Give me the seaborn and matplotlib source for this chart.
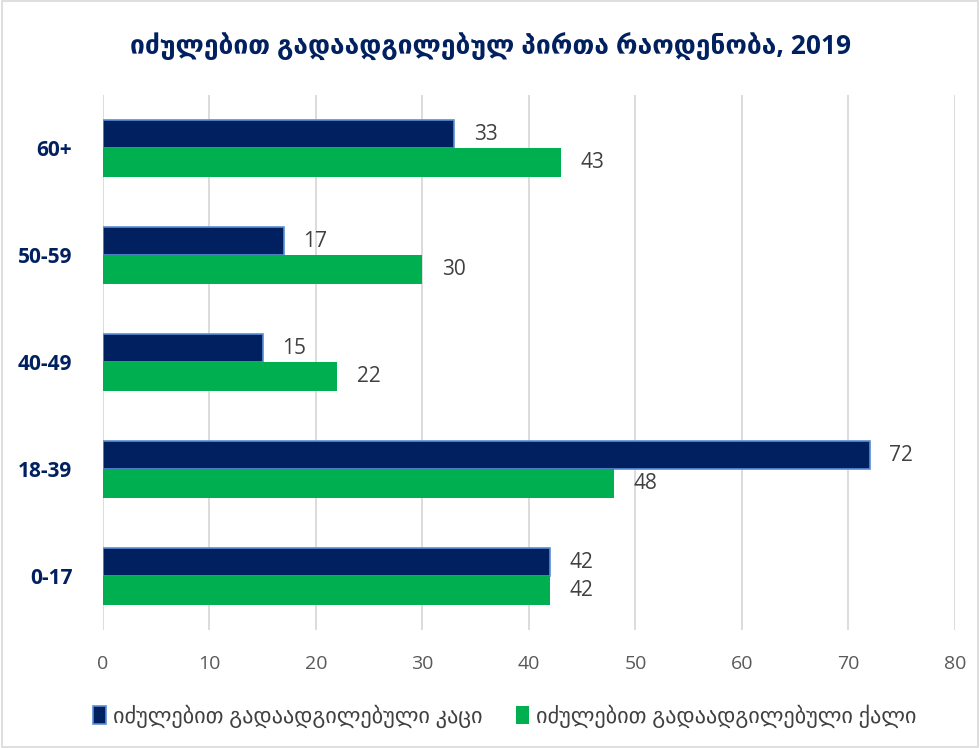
import numpy as np
import pandas as pd
import matplotlib
matplotlib.use("Agg")
import matplotlib.pyplot as plt
import seaborn as sns
from matplotlib.patches import Rectangle

ages = ["60+", "50-59", "40-49", "18-39", "0-17"]
men = [33, 17, 15, 72, 42]
women = [43, 30, 22, 48, 42]
series = ["იძულებით გადაადგილებული კაცი", "იძულებით გადაადგილებული ქალი"]
title = "იძულებით გადაადგილებულ პირთა რაოდენობა, 2019"
xticks = [0, 10, 20, 30, 40, 50, 60, 70, 80]

NAVY = "#002060"
GREEN = "#00B050"
EDGE = "#5B8ED6"

df = pd.DataFrame({
    "age": ages * 2,
    "value": men + women,
    "sex": [series[0]] * len(ages) + [series[1]] * len(ages),
})

sns.set_style("white")
plt.rcParams["font.family"] = ["Open Sans", "DejaVu Sans"]

fig = plt.figure(figsize=(9.8, 7.48), dpi=100)
ax = fig.add_axes([0.105, 0.158, 0.8695, 0.715])

sns.barplot(data=df, y="age", x="value", hue="sex", order=ages, hue_order=series,
            palette=[NAVY, GREEN], width=0.53, orient="h", ax=ax, legend=False,
            saturation=1)

# edge on the navy bars only
n = len(ages)
for i, bar in enumerate(ax.patches):
    if i < n:
        bar.set_edgecolor(EDGE)
        bar.set_linewidth(1.2)
    else:
        bar.set_linewidth(0)

for c in ax.containers:
    ax.bar_label(c, labels=[f"{v:.0f}" for v in c.datavalues], padding=14,
                 fontsize=15, color="#404040")

ax.set_xlim(0, 80)
ax.set_ylim(4.5, -0.5)
ax.set_xticks(xticks)
ax.xaxis.grid(True, color="#D9D9D9", linewidth=1.3)
ax.set_axisbelow(True)
for s in ax.spines.values():
    s.set_visible(False)
ax.set_xlabel("")
ax.set_ylabel("")
ax.tick_params(axis="x", length=0, labelsize=14, labelcolor="#595959", pad=18)
ax.tick_params(axis="y", length=0, pad=22)
for lab in ax.get_yticklabels():
    lab.set_fontsize(15)
    lab.set_fontweight("bold")
    lab.set_color(NAVY)

fig.text(0.5, 0.937, title, ha="center", va="center", fontsize=19,
         fontweight="bold", color=NAVY)

handles = [Rectangle((0, 0), 1, 1, facecolor=NAVY, edgecolor=EDGE, linewidth=1.2),
           Rectangle((0, 0), 1, 1, facecolor=GREEN, edgecolor="none")]
leg = fig.legend(handles, series, loc="center", bbox_to_anchor=(0.515, 0.043), ncol=2,
                 frameon=False, fontsize=16, handlelength=0.6, handleheight=0.9,
                 handletextpad=0.3, columnspacing=1.5)
for t in leg.get_texts():
    t.set_color("#404040")

fig.patches.append(Rectangle((0.002, 0.002), 0.996, 0.996, transform=fig.transFigure,
                             fill=False, edgecolor="#D9D9D9", linewidth=1.2))

fig.savefig("out.png", dpi=100)
